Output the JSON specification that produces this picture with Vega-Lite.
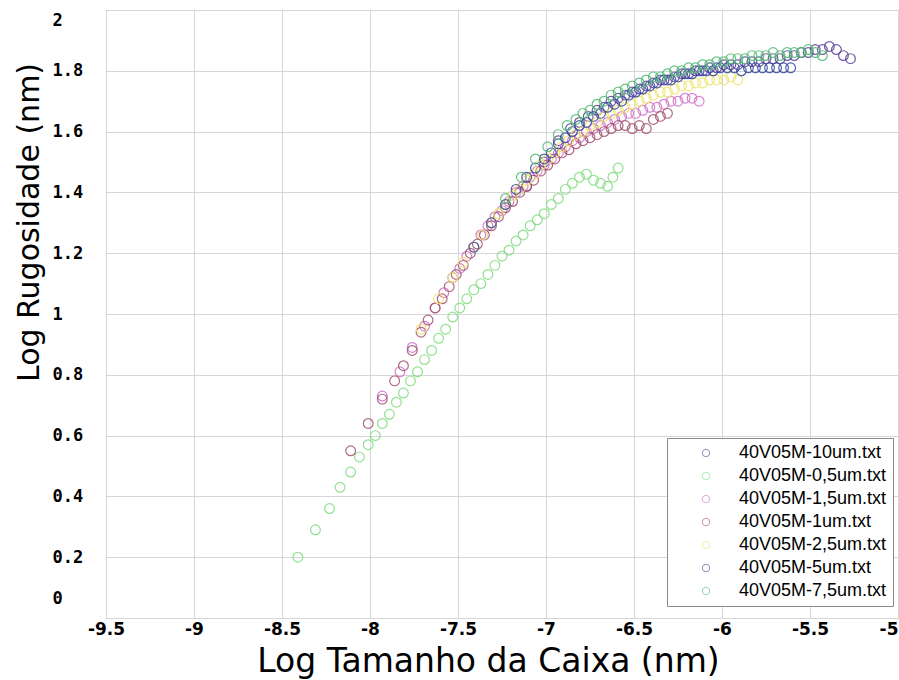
{
  "$schema": "https://vega.github.io/schema/vega-lite/v6.json",
  "width": 792,
  "height": 608,
  "autosize": "none",
  "padding": {"left": 106, "top": 10, "right": 1, "bottom": 62},
  "background": "white",
  "config": {
    "view": {"stroke": "#9a9a9a", "strokeWidth": 1}
  },
  "data": {
    "values": [
      {"f":"40V05M-10um.txt","x":-7.11,"y":1.42},{"f":"40V05M-10um.txt","x":-7.01,"y":1.5},{"f":"40V05M-10um.txt","x":-6.93,"y":1.57},{"f":"40V05M-10um.txt","x":-6.86,"y":1.61},{"f":"40V05M-10um.txt","x":-6.81,"y":1.63},{"f":"40V05M-10um.txt","x":-6.76,"y":1.65},{"f":"40V05M-10um.txt","x":-6.71,"y":1.67},{"f":"40V05M-10um.txt","x":-6.67,"y":1.68},{"f":"40V05M-10um.txt","x":-6.63,"y":1.7},{"f":"40V05M-10um.txt","x":-6.59,"y":1.71},{"f":"40V05M-10um.txt","x":-6.55,"y":1.72},{"f":"40V05M-10um.txt","x":-6.51,"y":1.73},{"f":"40V05M-10um.txt","x":-6.47,"y":1.74},{"f":"40V05M-10um.txt","x":-6.43,"y":1.75},{"f":"40V05M-10um.txt","x":-6.39,"y":1.76},{"f":"40V05M-10um.txt","x":-6.35,"y":1.77},{"f":"40V05M-10um.txt","x":-6.31,"y":1.77},{"f":"40V05M-10um.txt","x":-6.27,"y":1.78},{"f":"40V05M-10um.txt","x":-6.23,"y":1.79},{"f":"40V05M-10um.txt","x":-6.19,"y":1.79},{"f":"40V05M-10um.txt","x":-6.15,"y":1.8},{"f":"40V05M-10um.txt","x":-6.11,"y":1.8},{"f":"40V05M-10um.txt","x":-6.07,"y":1.81},{"f":"40V05M-10um.txt","x":-6.03,"y":1.81},{"f":"40V05M-10um.txt","x":-5.99,"y":1.82},{"f":"40V05M-10um.txt","x":-5.95,"y":1.82},{"f":"40V05M-10um.txt","x":-5.91,"y":1.82},{"f":"40V05M-10um.txt","x":-5.87,"y":1.83},{"f":"40V05M-10um.txt","x":-5.83,"y":1.83},{"f":"40V05M-10um.txt","x":-5.79,"y":1.83},{"f":"40V05M-10um.txt","x":-5.75,"y":1.84},{"f":"40V05M-10um.txt","x":-5.71,"y":1.84},{"f":"40V05M-10um.txt","x":-5.67,"y":1.84},{"f":"40V05M-10um.txt","x":-5.63,"y":1.85},{"f":"40V05M-10um.txt","x":-5.59,"y":1.85},{"f":"40V05M-10um.txt","x":-5.55,"y":1.86},{"f":"40V05M-10um.txt","x":-5.51,"y":1.86},{"f":"40V05M-10um.txt","x":-5.47,"y":1.87},{"f":"40V05M-10um.txt","x":-5.43,"y":1.87},{"f":"40V05M-10um.txt","x":-5.39,"y":1.88},{"f":"40V05M-10um.txt","x":-5.35,"y":1.87},{"f":"40V05M-10um.txt","x":-5.31,"y":1.85},{"f":"40V05M-10um.txt","x":-5.27,"y":1.84},

      {"f":"40V05M-0,5um.txt","x":-8.41,"y":0.2},{"f":"40V05M-0,5um.txt","x":-8.31,"y":0.29},{"f":"40V05M-0,5um.txt","x":-8.23,"y":0.36},{"f":"40V05M-0,5um.txt","x":-8.17,"y":0.43},{"f":"40V05M-0,5um.txt","x":-8.11,"y":0.48},{"f":"40V05M-0,5um.txt","x":-8.06,"y":0.53},{"f":"40V05M-0,5um.txt","x":-8.01,"y":0.57},{"f":"40V05M-0,5um.txt","x":-7.97,"y":0.6},{"f":"40V05M-0,5um.txt","x":-7.93,"y":0.64},{"f":"40V05M-0,5um.txt","x":-7.89,"y":0.67},{"f":"40V05M-0,5um.txt","x":-7.85,"y":0.71},{"f":"40V05M-0,5um.txt","x":-7.81,"y":0.74},{"f":"40V05M-0,5um.txt","x":-7.77,"y":0.78},{"f":"40V05M-0,5um.txt","x":-7.73,"y":0.81},{"f":"40V05M-0,5um.txt","x":-7.69,"y":0.85},{"f":"40V05M-0,5um.txt","x":-7.65,"y":0.88},{"f":"40V05M-0,5um.txt","x":-7.61,"y":0.92},{"f":"40V05M-0,5um.txt","x":-7.57,"y":0.95},{"f":"40V05M-0,5um.txt","x":-7.53,"y":0.99},{"f":"40V05M-0,5um.txt","x":-7.49,"y":1.02},{"f":"40V05M-0,5um.txt","x":-7.45,"y":1.05},{"f":"40V05M-0,5um.txt","x":-7.41,"y":1.08},{"f":"40V05M-0,5um.txt","x":-7.37,"y":1.1},{"f":"40V05M-0,5um.txt","x":-7.33,"y":1.13},{"f":"40V05M-0,5um.txt","x":-7.29,"y":1.16},{"f":"40V05M-0,5um.txt","x":-7.25,"y":1.19},{"f":"40V05M-0,5um.txt","x":-7.21,"y":1.21},{"f":"40V05M-0,5um.txt","x":-7.17,"y":1.24},{"f":"40V05M-0,5um.txt","x":-7.13,"y":1.26},{"f":"40V05M-0,5um.txt","x":-7.09,"y":1.29},{"f":"40V05M-0,5um.txt","x":-7.05,"y":1.31},{"f":"40V05M-0,5um.txt","x":-7.01,"y":1.33},{"f":"40V05M-0,5um.txt","x":-6.97,"y":1.36},{"f":"40V05M-0,5um.txt","x":-6.93,"y":1.38},{"f":"40V05M-0,5um.txt","x":-6.89,"y":1.41},{"f":"40V05M-0,5um.txt","x":-6.85,"y":1.43},{"f":"40V05M-0,5um.txt","x":-6.81,"y":1.45},{"f":"40V05M-0,5um.txt","x":-6.77,"y":1.46},{"f":"40V05M-0,5um.txt","x":-6.73,"y":1.44},{"f":"40V05M-0,5um.txt","x":-6.69,"y":1.43},{"f":"40V05M-0,5um.txt","x":-6.65,"y":1.42},{"f":"40V05M-0,5um.txt","x":-6.62,"y":1.45},{"f":"40V05M-0,5um.txt","x":-6.59,"y":1.48},

      {"f":"40V05M-1,5um.txt","x":-7.93,"y":0.73},{"f":"40V05M-1,5um.txt","x":-7.83,"y":0.81},{"f":"40V05M-1,5um.txt","x":-7.76,"y":0.89},{"f":"40V05M-1,5um.txt","x":-7.69,"y":0.96},{"f":"40V05M-1,5um.txt","x":-7.63,"y":1.02},{"f":"40V05M-1,5um.txt","x":-7.58,"y":1.07},{"f":"40V05M-1,5um.txt","x":-7.53,"y":1.12},{"f":"40V05M-1,5um.txt","x":-7.49,"y":1.15},{"f":"40V05M-1,5um.txt","x":-7.45,"y":1.19},{"f":"40V05M-1,5um.txt","x":-7.41,"y":1.22},{"f":"40V05M-1,5um.txt","x":-7.37,"y":1.26},{"f":"40V05M-1,5um.txt","x":-7.33,"y":1.29},{"f":"40V05M-1,5um.txt","x":-7.29,"y":1.32},{"f":"40V05M-1,5um.txt","x":-7.25,"y":1.34},{"f":"40V05M-1,5um.txt","x":-7.21,"y":1.37},{"f":"40V05M-1,5um.txt","x":-7.17,"y":1.4},{"f":"40V05M-1,5um.txt","x":-7.13,"y":1.42},{"f":"40V05M-1,5um.txt","x":-7.09,"y":1.45},{"f":"40V05M-1,5um.txt","x":-7.05,"y":1.47},{"f":"40V05M-1,5um.txt","x":-7.01,"y":1.49},{"f":"40V05M-1,5um.txt","x":-6.97,"y":1.51},{"f":"40V05M-1,5um.txt","x":-6.93,"y":1.53},{"f":"40V05M-1,5um.txt","x":-6.89,"y":1.55},{"f":"40V05M-1,5um.txt","x":-6.85,"y":1.57},{"f":"40V05M-1,5um.txt","x":-6.81,"y":1.58},{"f":"40V05M-1,5um.txt","x":-6.77,"y":1.6},{"f":"40V05M-1,5um.txt","x":-6.73,"y":1.61},{"f":"40V05M-1,5um.txt","x":-6.69,"y":1.62},{"f":"40V05M-1,5um.txt","x":-6.65,"y":1.63},{"f":"40V05M-1,5um.txt","x":-6.61,"y":1.64},{"f":"40V05M-1,5um.txt","x":-6.57,"y":1.65},{"f":"40V05M-1,5um.txt","x":-6.53,"y":1.66},{"f":"40V05M-1,5um.txt","x":-6.49,"y":1.66},{"f":"40V05M-1,5um.txt","x":-6.45,"y":1.67},{"f":"40V05M-1,5um.txt","x":-6.41,"y":1.68},{"f":"40V05M-1,5um.txt","x":-6.37,"y":1.68},{"f":"40V05M-1,5um.txt","x":-6.33,"y":1.69},{"f":"40V05M-1,5um.txt","x":-6.29,"y":1.7},{"f":"40V05M-1,5um.txt","x":-6.25,"y":1.7},{"f":"40V05M-1,5um.txt","x":-6.21,"y":1.71},{"f":"40V05M-1,5um.txt","x":-6.17,"y":1.71},{"f":"40V05M-1,5um.txt","x":-6.13,"y":1.7},

      {"f":"40V05M-1um.txt","x":-8.11,"y":0.55},{"f":"40V05M-1um.txt","x":-8.01,"y":0.64},{"f":"40V05M-1um.txt","x":-7.93,"y":0.72},{"f":"40V05M-1um.txt","x":-7.86,"y":0.78},{"f":"40V05M-1um.txt","x":-7.81,"y":0.83},{"f":"40V05M-1um.txt","x":-7.76,"y":0.88},{"f":"40V05M-1um.txt","x":-7.71,"y":0.94},{"f":"40V05M-1um.txt","x":-7.67,"y":0.98},{"f":"40V05M-1um.txt","x":-7.63,"y":1.02},{"f":"40V05M-1um.txt","x":-7.59,"y":1.05},{"f":"40V05M-1um.txt","x":-7.55,"y":1.09},{"f":"40V05M-1um.txt","x":-7.51,"y":1.13},{"f":"40V05M-1um.txt","x":-7.47,"y":1.16},{"f":"40V05M-1um.txt","x":-7.43,"y":1.2},{"f":"40V05M-1um.txt","x":-7.39,"y":1.23},{"f":"40V05M-1um.txt","x":-7.35,"y":1.26},{"f":"40V05M-1um.txt","x":-7.31,"y":1.29},{"f":"40V05M-1um.txt","x":-7.27,"y":1.32},{"f":"40V05M-1um.txt","x":-7.23,"y":1.35},{"f":"40V05M-1um.txt","x":-7.19,"y":1.37},{"f":"40V05M-1um.txt","x":-7.15,"y":1.4},{"f":"40V05M-1um.txt","x":-7.11,"y":1.42},{"f":"40V05M-1um.txt","x":-7.07,"y":1.44},{"f":"40V05M-1um.txt","x":-7.03,"y":1.47},{"f":"40V05M-1um.txt","x":-6.99,"y":1.49},{"f":"40V05M-1um.txt","x":-6.95,"y":1.51},{"f":"40V05M-1um.txt","x":-6.91,"y":1.53},{"f":"40V05M-1um.txt","x":-6.87,"y":1.54},{"f":"40V05M-1um.txt","x":-6.83,"y":1.56},{"f":"40V05M-1um.txt","x":-6.79,"y":1.57},{"f":"40V05M-1um.txt","x":-6.75,"y":1.58},{"f":"40V05M-1um.txt","x":-6.71,"y":1.59},{"f":"40V05M-1um.txt","x":-6.67,"y":1.6},{"f":"40V05M-1um.txt","x":-6.63,"y":1.61},{"f":"40V05M-1um.txt","x":-6.59,"y":1.62},{"f":"40V05M-1um.txt","x":-6.55,"y":1.62},{"f":"40V05M-1um.txt","x":-6.51,"y":1.61},{"f":"40V05M-1um.txt","x":-6.47,"y":1.62},{"f":"40V05M-1um.txt","x":-6.43,"y":1.61},{"f":"40V05M-1um.txt","x":-6.39,"y":1.64},{"f":"40V05M-1um.txt","x":-6.35,"y":1.65},{"f":"40V05M-1um.txt","x":-6.31,"y":1.66},

      {"f":"40V05M-2,5um.txt","x":-7.71,"y":0.95},{"f":"40V05M-2,5um.txt","x":-7.61,"y":1.05},{"f":"40V05M-2,5um.txt","x":-7.53,"y":1.12},{"f":"40V05M-2,5um.txt","x":-7.47,"y":1.17},{"f":"40V05M-2,5um.txt","x":-7.41,"y":1.22},{"f":"40V05M-2,5um.txt","x":-7.36,"y":1.26},{"f":"40V05M-2,5um.txt","x":-7.31,"y":1.3},{"f":"40V05M-2,5um.txt","x":-7.27,"y":1.33},{"f":"40V05M-2,5um.txt","x":-7.23,"y":1.36},{"f":"40V05M-2,5um.txt","x":-7.19,"y":1.39},{"f":"40V05M-2,5um.txt","x":-7.15,"y":1.41},{"f":"40V05M-2,5um.txt","x":-7.11,"y":1.44},{"f":"40V05M-2,5um.txt","x":-7.07,"y":1.46},{"f":"40V05M-2,5um.txt","x":-7.03,"y":1.49},{"f":"40V05M-2,5um.txt","x":-6.99,"y":1.51},{"f":"40V05M-2,5um.txt","x":-6.95,"y":1.53},{"f":"40V05M-2,5um.txt","x":-6.91,"y":1.55},{"f":"40V05M-2,5um.txt","x":-6.87,"y":1.57},{"f":"40V05M-2,5um.txt","x":-6.83,"y":1.59},{"f":"40V05M-2,5um.txt","x":-6.79,"y":1.6},{"f":"40V05M-2,5um.txt","x":-6.75,"y":1.62},{"f":"40V05M-2,5um.txt","x":-6.71,"y":1.63},{"f":"40V05M-2,5um.txt","x":-6.67,"y":1.65},{"f":"40V05M-2,5um.txt","x":-6.63,"y":1.66},{"f":"40V05M-2,5um.txt","x":-6.59,"y":1.67},{"f":"40V05M-2,5um.txt","x":-6.55,"y":1.68},{"f":"40V05M-2,5um.txt","x":-6.51,"y":1.69},{"f":"40V05M-2,5um.txt","x":-6.47,"y":1.7},{"f":"40V05M-2,5um.txt","x":-6.43,"y":1.71},{"f":"40V05M-2,5um.txt","x":-6.39,"y":1.72},{"f":"40V05M-2,5um.txt","x":-6.35,"y":1.73},{"f":"40V05M-2,5um.txt","x":-6.31,"y":1.73},{"f":"40V05M-2,5um.txt","x":-6.27,"y":1.74},{"f":"40V05M-2,5um.txt","x":-6.23,"y":1.75},{"f":"40V05M-2,5um.txt","x":-6.19,"y":1.75},{"f":"40V05M-2,5um.txt","x":-6.15,"y":1.76},{"f":"40V05M-2,5um.txt","x":-6.11,"y":1.76},{"f":"40V05M-2,5um.txt","x":-6.07,"y":1.77},{"f":"40V05M-2,5um.txt","x":-6.03,"y":1.77},{"f":"40V05M-2,5um.txt","x":-5.99,"y":1.77},{"f":"40V05M-2,5um.txt","x":-5.95,"y":1.78},{"f":"40V05M-2,5um.txt","x":-5.91,"y":1.77},

      {"f":"40V05M-5um.txt","x":-7.41,"y":1.22},{"f":"40V05M-5um.txt","x":-7.31,"y":1.3},{"f":"40V05M-5um.txt","x":-7.23,"y":1.36},{"f":"40V05M-5um.txt","x":-7.17,"y":1.41},{"f":"40V05M-5um.txt","x":-7.11,"y":1.45},{"f":"40V05M-5um.txt","x":-7.06,"y":1.48},{"f":"40V05M-5um.txt","x":-7.01,"y":1.51},{"f":"40V05M-5um.txt","x":-6.97,"y":1.53},{"f":"40V05M-5um.txt","x":-6.93,"y":1.56},{"f":"40V05M-5um.txt","x":-6.89,"y":1.58},{"f":"40V05M-5um.txt","x":-6.85,"y":1.6},{"f":"40V05M-5um.txt","x":-6.81,"y":1.62},{"f":"40V05M-5um.txt","x":-6.77,"y":1.63},{"f":"40V05M-5um.txt","x":-6.73,"y":1.65},{"f":"40V05M-5um.txt","x":-6.69,"y":1.66},{"f":"40V05M-5um.txt","x":-6.65,"y":1.68},{"f":"40V05M-5um.txt","x":-6.61,"y":1.69},{"f":"40V05M-5um.txt","x":-6.57,"y":1.7},{"f":"40V05M-5um.txt","x":-6.53,"y":1.72},{"f":"40V05M-5um.txt","x":-6.49,"y":1.73},{"f":"40V05M-5um.txt","x":-6.45,"y":1.74},{"f":"40V05M-5um.txt","x":-6.41,"y":1.75},{"f":"40V05M-5um.txt","x":-6.37,"y":1.76},{"f":"40V05M-5um.txt","x":-6.33,"y":1.77},{"f":"40V05M-5um.txt","x":-6.29,"y":1.77},{"f":"40V05M-5um.txt","x":-6.25,"y":1.78},{"f":"40V05M-5um.txt","x":-6.21,"y":1.79},{"f":"40V05M-5um.txt","x":-6.17,"y":1.79},{"f":"40V05M-5um.txt","x":-6.13,"y":1.8},{"f":"40V05M-5um.txt","x":-6.09,"y":1.8},{"f":"40V05M-5um.txt","x":-6.05,"y":1.8},{"f":"40V05M-5um.txt","x":-6.01,"y":1.81},{"f":"40V05M-5um.txt","x":-5.97,"y":1.81},{"f":"40V05M-5um.txt","x":-5.93,"y":1.81},{"f":"40V05M-5um.txt","x":-5.89,"y":1.8},{"f":"40V05M-5um.txt","x":-5.85,"y":1.81},{"f":"40V05M-5um.txt","x":-5.81,"y":1.81},{"f":"40V05M-5um.txt","x":-5.77,"y":1.81},{"f":"40V05M-5um.txt","x":-5.73,"y":1.81},{"f":"40V05M-5um.txt","x":-5.69,"y":1.81},{"f":"40V05M-5um.txt","x":-5.65,"y":1.81},{"f":"40V05M-5um.txt","x":-5.61,"y":1.81},

      {"f":"40V05M-7,5um.txt","x":-7.23,"y":1.38},{"f":"40V05M-7,5um.txt","x":-7.14,"y":1.45},{"f":"40V05M-7,5um.txt","x":-7.06,"y":1.51},{"f":"40V05M-7,5um.txt","x":-6.99,"y":1.55},{"f":"40V05M-7,5um.txt","x":-6.93,"y":1.59},{"f":"40V05M-7,5um.txt","x":-6.88,"y":1.62},{"f":"40V05M-7,5um.txt","x":-6.83,"y":1.64},{"f":"40V05M-7,5um.txt","x":-6.79,"y":1.66},{"f":"40V05M-7,5um.txt","x":-6.75,"y":1.67},{"f":"40V05M-7,5um.txt","x":-6.71,"y":1.69},{"f":"40V05M-7,5um.txt","x":-6.67,"y":1.7},{"f":"40V05M-7,5um.txt","x":-6.63,"y":1.72},{"f":"40V05M-7,5um.txt","x":-6.59,"y":1.73},{"f":"40V05M-7,5um.txt","x":-6.55,"y":1.74},{"f":"40V05M-7,5um.txt","x":-6.51,"y":1.75},{"f":"40V05M-7,5um.txt","x":-6.47,"y":1.76},{"f":"40V05M-7,5um.txt","x":-6.43,"y":1.77},{"f":"40V05M-7,5um.txt","x":-6.39,"y":1.78},{"f":"40V05M-7,5um.txt","x":-6.35,"y":1.78},{"f":"40V05M-7,5um.txt","x":-6.31,"y":1.79},{"f":"40V05M-7,5um.txt","x":-6.27,"y":1.8},{"f":"40V05M-7,5um.txt","x":-6.23,"y":1.8},{"f":"40V05M-7,5um.txt","x":-6.19,"y":1.81},{"f":"40V05M-7,5um.txt","x":-6.15,"y":1.81},{"f":"40V05M-7,5um.txt","x":-6.11,"y":1.82},{"f":"40V05M-7,5um.txt","x":-6.07,"y":1.82},{"f":"40V05M-7,5um.txt","x":-6.03,"y":1.83},{"f":"40V05M-7,5um.txt","x":-5.99,"y":1.83},{"f":"40V05M-7,5um.txt","x":-5.95,"y":1.84},{"f":"40V05M-7,5um.txt","x":-5.91,"y":1.84},{"f":"40V05M-7,5um.txt","x":-5.87,"y":1.84},{"f":"40V05M-7,5um.txt","x":-5.83,"y":1.85},{"f":"40V05M-7,5um.txt","x":-5.79,"y":1.85},{"f":"40V05M-7,5um.txt","x":-5.75,"y":1.85},{"f":"40V05M-7,5um.txt","x":-5.71,"y":1.86},{"f":"40V05M-7,5um.txt","x":-5.67,"y":1.85},{"f":"40V05M-7,5um.txt","x":-5.63,"y":1.86},{"f":"40V05M-7,5um.txt","x":-5.59,"y":1.86},{"f":"40V05M-7,5um.txt","x":-5.55,"y":1.86},{"f":"40V05M-7,5um.txt","x":-5.51,"y":1.87},{"f":"40V05M-7,5um.txt","x":-5.47,"y":1.86},{"f":"40V05M-7,5um.txt","x":-5.43,"y":1.85}
    ]
  },
  "mark": {"type": "point", "shape": "circle", "filled": false, "size": 95, "strokeWidth": 1.2, "opacity": 0.85},
  "encoding": {
    "x": {
      "field": "x", "type": "quantitative",
      "scale": {"domain": [-9.5, -5], "nice": false, "zero": false},
      "axis": {
        "title": "Log Tamanho da Caixa (nm)",
        "values": [-9.5, -9, -8.5, -8, -7.5, -7, -6.5, -6, -5.5, -5],
        "labelExpr": "datum.value + ''",
        "labelFont": "DejaVu Sans", "labelFontWeight": "bold", "labelFontSize": 17, "labelColor": "#000000",
        "labelPadding": 3, "labelFlush": false,
        "labelAlign": {"condition": {"test": "datum.value === -5", "value": "right"}, "value": "center"},
        "ticks": false, "tickSize": 0,
        "domain": false,
        "grid": true, "gridColor": "#d6d6d6", "gridWidth": 1,
        "titleFont": "DejaVu Sans", "titleFontSize": 33, "titleFontWeight": "normal", "titleColor": "#000000",
        "titleX": 382, "titleY": 43, "titleBaseline": "middle", "titleAlign": "center"
      }
    },
    "y": {
      "field": "y", "type": "quantitative",
      "scale": {"domain": [0, 2], "nice": false, "zero": false},
      "axis": {
        "title": "Log Rugosidade (nm)",
        "values": [0, 0.2, 0.4, 0.6, 0.8, 1, 1.2, 1.4, 1.6, 1.8, 2],
        "labelExpr": "datum.value + ''",
        "labelFont": "DejaVu Sans Mono", "labelFontWeight": "bold", "labelFontSize": 17, "labelColor": "#000000",
        "labelAlign": "left", "labelPadding": 54,
        "labelOffset": {"condition": [{"test": "datum.value === 0", "value": -20}, {"test": "datum.value === 2", "value": 10}], "value": 0},
        "ticks": false, "tickSize": 0,
        "domain": false,
        "grid": true, "gridColor": "#d6d6d6", "gridWidth": 1,
        "titleFont": "DejaVu Sans", "titleFontSize": 30, "titleFontWeight": "normal", "titleColor": "#000000",
        "titleX": -77, "titleY": 212, "titleBaseline": "middle", "titleAlign": "center", "titleAngle": -90
      }
    },
    "color": {
      "field": "f", "type": "nominal",
      "scale": {
        "domain": ["40V05M-10um.txt", "40V05M-0,5um.txt", "40V05M-1,5um.txt", "40V05M-1um.txt", "40V05M-2,5um.txt", "40V05M-5um.txt", "40V05M-7,5um.txt"],
        "range": ["#5a3f96", "#7fdc7f", "#d070c8", "#a0506e", "#eee46a", "#34469c", "#4fb870"]
      },
      "legend": {
        "title": null,
        "orient": "none", "legendX": 561, "legendY": 428,
        "fillColor": "white", "strokeColor": "#8a8a8a", "padding": 6,
        "symbolOffset": 24, "labelOffset": 24, "symbolSize": 55, "symbolStrokeWidth": 1, "symbolOpacity": 0.6,
        "labelFont": "Liberation Sans", "labelFontSize": 18, "labelColor": "#000000", "labelLimit": 300,
        "rowPadding": 5
      }
    }
  }
}
